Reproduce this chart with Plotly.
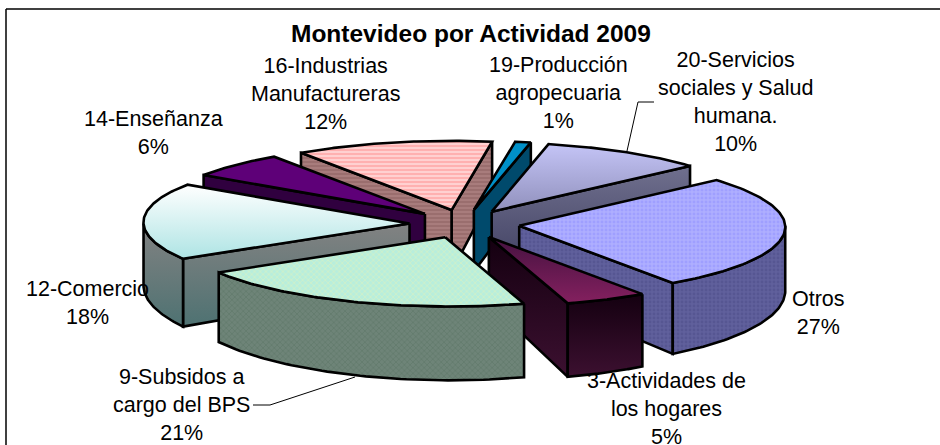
import numpy as np
import plotly.graph_objects as go

# ---- data ----
categories = ["19-Producción agropecuaria", "20-Servicios sociales y Salud humana.", "Otros",
              "3-Actividades de los hogares", "9-Subsidos a cargo del BPS", "12-Comercio",
              "14-Enseñanza", "16-Industrias Manufactureras"]
values = [1, 10, 27, 5, 21, 18, 6, 12]
label_lines = ["19-Producción<br>agropecuaria<br>1%", "20-Servicios<br>sociales y Salud<br>humana.<br>10%",
               "Otros<br>27%", "3-Actividades de<br>los hogares<br>5%", "9-Subsidos a<br>cargo del BPS<br>21%",
               "12-Comercio<br>18%", "14-Enseñanza<br>6%", "16-Industrias<br>Manufactureras<br>12%"]
title_text = "Montevideo por Actividad 2009"

# ---- layout / style ----
label_pos = [(558, 93), (735, 102), (818, 313), (666, 409), (181, 405), (87, 303), (153, 133), (325, 94)]
FONT = "Liberation Sans, Arial, sans-serif"
FS = 21.5
CX, CY, R, B, EXPL, START = 462.5, 224.0, 266.0, 0.26, 55.0, 9.0
SHEAR, SHEAR_Y = 0.07, 195.0


def solid(c):
    return dict(fillcolor=c)


def grad(c0, c1):
    return dict(fillgradient=dict(type="vertical", colorscale=[[0, c0], [1, c1]]))


def patt(shape, fg, bg, size=4, sol=0.5):
    return dict(fillcolor=bg, fillpattern=dict(shape=shape, fgcolor=fg, bgcolor=bg, size=size, solidity=sol))


styles = [
    (solid("#0090C8"), solid("#004A6C")),
    (grad("#9090BC", "#C4C4F6"), grad("#3E3E60", "#70708E")),
    (patt(".", "#9090FF", "#AEAEFF", 4, 0.4), patt(".", "#4C4C88", "#60609C", 4, 0.4)),
    (grad("#84205F", "#451240"), grad("#3C1030", "#140010")),
    (patt("x", "#E4F2B8", "#B8EEDC", 4, 0.4), patt("x", "#56705F", "#6E8478", 4, 0.35)),
    (grad("#AEE4E4", "#FFFFFF"), grad("#4E7272", "#828282")),
    (solid("#5E0078"), solid("#30003F")),
    (patt("-", "#FF9090", "#FFD0D0", 4, 0.5), patt("-", "#8C6060", "#A87C7C", 4, 0.5)),
]
# painter's order: back slices first
order = [7, 6, 0, 1, 5, 2, 3, 4]


def depth(y):
    return 53 + (np.asarray(y) - 142) * 0.127


def project(theta_deg, r, ox, oy):
    t = np.radians(theta_deg)
    y = oy - B * r * np.cos(t)
    x = ox + r * np.sin(t) + SHEAR * np.maximum(0, y - SHEAR_Y)
    return x, y


def poly(fig, xs, ys, style):
    xs, ys = list(xs), list(ys)
    fig.add_trace(go.Scatter(x=xs + xs[:1], y=ys + ys[:1], mode="lines", fill="toself",
                             line=dict(color="black", width=2.6), hoverinfo="skip",
                             showlegend=False, **style))


fig = go.Figure()
total = sum(values)
spans = np.array(values) / total * 360
starts = START + np.concatenate([[0], np.cumsum(spans)[:-1]])

for i in order:
    a0, a1 = starts[i], starts[i] + spans[i]
    mid = np.radians((a0 + a1) / 2)
    ox, oy = CX + EXPL * np.sin(mid), CY - B * EXPL * np.cos(mid)
    px, py = project(0.0, 0.0, ox, oy)
    top, wall = styles[i]
    walls = []
    for ang, visible in ((a0, np.sin(np.radians(a0)) < 0), (a1, np.sin(np.radians(a1)) > 0)):
        if visible:
            ex, ey = project(ang, R, ox, oy)
            wx = [px, ex, ex, px]
            wy = [py, ey, ey + depth(ey), py + depth(py)]
            walls.append((np.mean(wy), wx, wy))
    for shift in (0, 360):
        l2, h2 = max(a0, 90 + shift), min(a1, 270 + shift)
        if h2 > l2:
            th = np.linspace(l2, h2, 60)
            ax, ay = project(th, R, ox, oy)
            wx = np.concatenate([ax, ax[::-1]])
            wy = np.concatenate([ay, (ay + depth(ay))[::-1]])
            walls.append((np.mean(wy) + 1000, wx, wy))
    for _, wx, wy in sorted(walls, key=lambda w: w[0]):
        poly(fig, wx, wy, wall)
    th = np.linspace(a0, a1, 80)
    tx, ty = project(th, R, ox, oy)
    poly(fig, np.concatenate([[px], tx]), np.concatenate([[py], ty]), top)

# leader lines
leader_x = [[355, 270, 253], [627, 638, 654]]
leader_y = [[377, 405, 405], [151, 102, 102]]
for lx, ly in zip(leader_x, leader_y):
    fig.add_trace(go.Scatter(x=lx, y=ly, mode="lines", line=dict(color="black", width=1),
                             hoverinfo="skip", showlegend=False))

annotations = [dict(x=471, y=33, xref="x", yref="y", text="<b>" + title_text + "</b>", showarrow=False,
                    font=dict(family=FONT, size=24.5, color="black"))]
for txt, (lx, ly) in zip(label_lines, label_pos):
    annotations.append(dict(x=lx, y=ly, xref="x", yref="y", text=txt, showarrow=False, align="center",
                            font=dict(family=FONT, size=FS, color="black")))

fig.update_layout(
    width=940, height=445, margin=dict(l=0, r=0, t=0, b=0, pad=0, autoexpand=False),
    paper_bgcolor="white", plot_bgcolor="white", showlegend=False,
    xaxis=dict(range=[0, 940], visible=False, fixedrange=True),
    yaxis=dict(range=[445, 0], visible=False, fixedrange=True),
    annotations=annotations,
    shapes=[dict(type="line", x0=6, x1=6, y0=9, y1=445, xref="x", yref="y", line=dict(color="black", width=1.5)),
            dict(type="line", x0=6, x1=940, y0=9, y1=9, xref="x", yref="y", line=dict(color="black", width=1.5))],
)
fig.write_html("out.html", config={"displayModeBar": False},
               post_script="document.body.style.margin='0';document.body.style.overflow='hidden';")
